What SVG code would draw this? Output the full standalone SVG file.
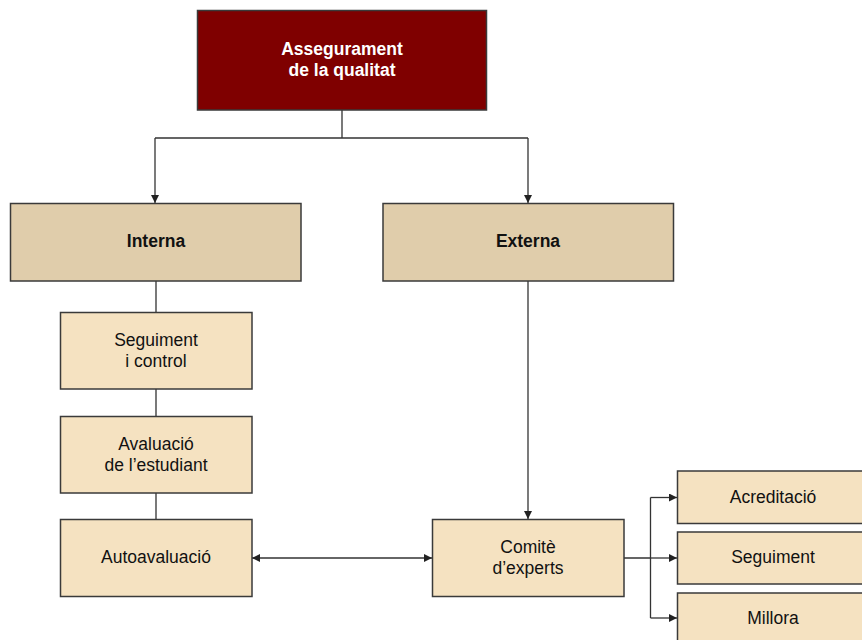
<svg xmlns="http://www.w3.org/2000/svg" width="862" height="640" viewBox="0 0 862 640">
<defs>
<style>
.box{stroke:#3a3a3a;stroke-width:1.5}
.top{fill:#7f0000}
.mid{fill:#e0cdab}
.low{fill:#f5e2c1}
text{font-family:"Liberation Sans",Arial,sans-serif;font-size:17.5px;text-anchor:middle;fill:#111}
.b{font-weight:bold}
.w{fill:#fff}
.ln{fill:none;stroke:#333;stroke-width:1.3}
</style>
<marker id="ah" viewBox="0 0 10 10" refX="10" refY="5" markerWidth="8" markerHeight="8" markerUnits="userSpaceOnUse" orient="auto-start-reverse">
<path d="M0,0 L10,5 L0,10 z" fill="#222"/>
</marker>
</defs>
<rect width="862" height="640" fill="#fff"/>
<g id="connectors">
<path class="ln" d="M342,110 V138 M155,138 H528"/>
<path class="ln" d="M155,138 V203" marker-end="url(#ah)"/>
<path class="ln" d="M528,138 V203" marker-end="url(#ah)"/>
<path class="ln" d="M156,281 V312 M156,389 V416 M156,493 V519"/>
<path class="ln" d="M528,281 V519" marker-end="url(#ah)"/>
<path class="ln" d="M252,558 H432" marker-start="url(#ah)" marker-end="url(#ah)"/>
<path class="ln" d="M624,558 H650.5 M650.5,497.5 V618"/>
<path class="ln" d="M650.5,497.5 H677" marker-end="url(#ah)"/>
<path class="ln" d="M650.5,558 H677" marker-end="url(#ah)"/>
<path class="ln" d="M650.5,618 H677" marker-end="url(#ah)"/>
</g>
<g id="n-top"><rect class="box top" x="197.5" y="10.5" width="289" height="99.5"/><text class="b w" x="342" y="55">Assegurament</text><text class="b w" x="342" y="76">de la qualitat</text></g>
<g id="n-interna"><rect class="box mid" x="10.5" y="203.5" width="290.5" height="77.5"/><text class="b" x="156" y="247">Interna</text></g>
<g id="n-externa"><rect class="box mid" x="383" y="203.5" width="290.5" height="77.5"/><text class="b" x="528" y="247">Externa</text></g>
<g id="n-seg"><rect class="box low" x="60.5" y="312.5" width="191.5" height="76.5"/><text x="156" y="346">Seguiment</text><text x="156" y="367">i control</text></g>
<g id="n-aval"><rect class="box low" x="60.5" y="416.5" width="191.5" height="76.5"/><text x="156" y="450">Avaluació</text><text x="156" y="471">de l’estudiant</text></g>
<g id="n-auto"><rect class="box low" x="60.5" y="519.5" width="191.5" height="77"/><text x="156" y="563">Autoavaluació</text></g>
<g id="n-comite"><rect class="box low" x="432.5" y="519.5" width="191.5" height="77"/><text x="528" y="553">Comitè</text><text x="528" y="574">d’experts</text></g>
<g id="n-acr"><rect class="box low" x="677.5" y="471" width="190" height="52.5"/><text x="773" y="503">Acreditació</text></g>
<g id="n-segu"><rect class="box low" x="677.5" y="532" width="190" height="52"/><text x="773" y="563">Seguiment</text></g>
<g id="n-mill"><rect class="box low" x="677.5" y="593" width="190" height="52"/><text x="773" y="624">Millora</text></g>
</svg>
